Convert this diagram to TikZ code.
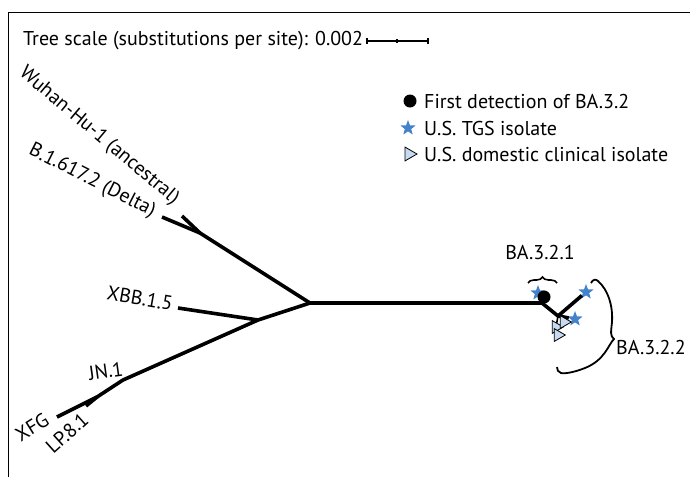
\documentclass[tikz,border=0pt]{standalone}
\usepackage{fontspec}
\setmainfont{PT Sans}
\usetikzlibrary{shapes.geometric,decorations.pathreplacing}
\definecolor{tgsblue}{RGB}{68,131,202}
\definecolor{clinblue}{RGB}{200,218,240}

\begin{document}
\begin{tikzpicture}[x=1pt,y=-1pt,
  branch/.style={line width=3.6pt,line join=round},
  tgsstar/.style={star,star points=5,star point ratio=2.4,fill=tgsblue,inner sep=0pt,minimum size=16pt},
  clintri/.style={isosceles triangle,isosceles triangle apex angle=60,draw=black,line width=0.8pt,fill=clinblue,inner sep=0pt,minimum size=11pt},
  firstdot/.style={circle,fill=black,inner sep=0pt,minimum size=13pt},
  lbl/.style={font=\fontsize{20}{24}\selectfont,inner sep=0pt}]
\useasboundingbox (0,0) rectangle (690,477);
\draw[line width=1.6pt] (8.5,477) -- (8.5,12.5) -- (690,12.5);
\node[lbl,anchor=west] (scale) at (23,41) {Tree scale (substitutions per site): 0.002};
\coordinate (sbl) at (367,41);
\coordinate (sbm) at (397,41);
\coordinate (sbr) at (428,41);
\draw[line width=1.5pt] (sbl) -- (sbr);
\draw[line width=1.2pt] (sbl) +(0,-3) -- +(0,3);
\draw[line width=1.2pt] (sbm) +(0,-2) -- +(0,2);
\draw[line width=1.2pt] (sbr) +(0,-3) -- +(0,3);
\node[firstdot] (lgdot) at (410,101) {};
\node[lbl,anchor=west] (lgdottxt) at (424,101) {First detection of BA.3.2};
\node[tgsstar] (lgstar) at (408,128) {};
\node[lbl,anchor=west] (lgstartxt) at (424,128) {U.S. TGS isolate};
\node[clintri,minimum size=12pt] (lgtri) at (409,154) {};
\node[lbl,anchor=west] (lgtritxt) at (424,154) {U.S. domestic clinical isolate};
\coordinate (root) at (310,303);
\coordinate (nD) at (200,233);
\coordinate (tWuhan) at (182,216);
\coordinate (tDelta) at (162,217);
\coordinate (nX) at (258,320);
\coordinate (tXBB) at (178,308);
\coordinate (nJN) at (123,380);
\coordinate (nL) at (97,397);
\coordinate (tXFG) at (57,417);
\coordinate (tLP) at (86,406);
\coordinate (n32) at (542,303);
\coordinate (n322) at (558,316);
\draw[branch] (n32) -- (root) -- (nD) -- (tWuhan);
\draw[branch] (nD) -- (tDelta);
\draw[branch] (root) -- (nX) -- (tXBB);
\draw[branch] (nX) -- (nJN) -- (nL) -- (tXFG);
\draw[branch] (nL) -- (tLP);
\node[tgsstar] (s1) at (538,293) {};
\node[tgsstar] (s2) at (586,292) {};
\node[tgsstar] (s3) at (575,319) {};
\draw[branch] (n32) -- (n322) -- (s2);
\draw[branch] (n322) -- (s3);
\node[firstdot] (first) at (544,297) {};
\node[clintri] (c1) at (556,327) {};
\node[clintri] (c2) at (564,322) {};
\node[clintri] (c3) at (558,335) {};
\draw[line width=1.6pt] (n322) -- (c1);
\node[lbl,rotate=-40] (wuhan) at (99,136) {Wuhan-Hu-1 (ancestral)};
\node[lbl,rotate=-27] (delta) at (92,181) {B.1.617.2 (Delta)};
\node[lbl,rotate=-10] (xbb) at (140,298) {XBB.1.5};
\node[lbl,rotate=8] (jn) at (106,371) {JN.1};
\node[lbl,rotate=32] (xfg) at (32,427) {XFG};
\node[lbl,rotate=42] (lp) at (67,433) {LP.8.1};
\node[lbl] (ba321) at (540,252) {BA.3.2.1};
\draw[line width=1.6pt,decorate,decoration={brace,amplitude=6pt}] (528,283) -- (557,283);
\node[lbl,anchor=west] (ba322) at (616,347) {BA.3.2.2};
\draw[line width=1.8pt] (591,283) .. controls (593,279) and (596,279) .. (598,281)
  .. controls (608,290) and (613,305) .. (612,322)
  .. controls (611,332) and (610,336) .. (614,339)
  .. controls (608,345) and (605,360) .. (585,368)
  .. controls (575,372) and (565,374) .. (561,373)
  .. controls (558,372) and (557,370) .. (557,367);
\end{tikzpicture}
\end{document}
